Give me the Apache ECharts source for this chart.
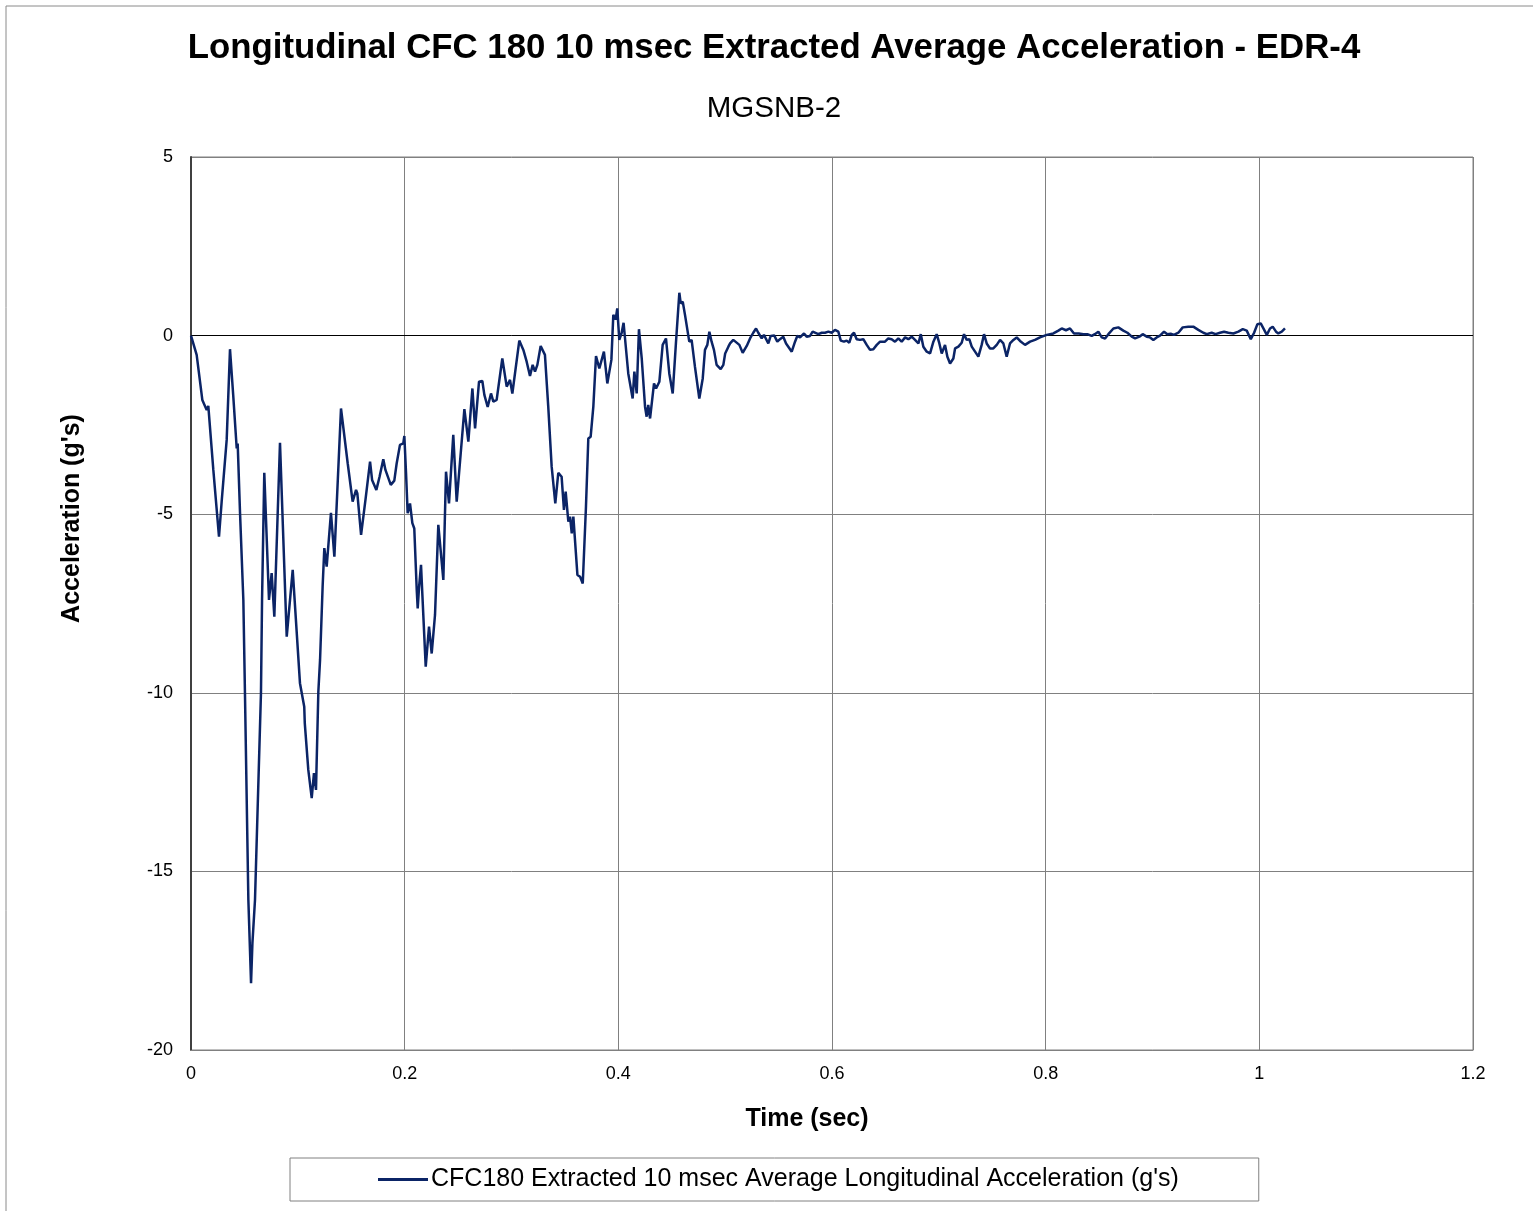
<!DOCTYPE html>
<html>
<head>
<meta charset="utf-8">
<script src="https://cdn.jsdelivr.net/npm/echarts@6/dist/echarts.min.js"></script>
<style>
html,body{margin:0;padding:0;background:#fff;}
#chart{width:1533px;height:1211px;}
</style>
</head>
<body>
<div id="chart"></div>
<script>
const titleText = "Longitudinal CFC 180 10 msec Extracted Average Acceleration - EDR-4";
const subtitleText = "MGSNB-2";
const seriesName = "CFC180 Extracted 10 msec Average Longitudinal Acceleration (g's)";
const xAxisName = "Time (sec)";
const yAxisName = "Acceleration (g's)";
const xTicks = [0, 0.2, 0.4, 0.6, 0.8, 1, 1.2];
const yTicks = [-20, -15, -10, -5, 0, 5];

const timeSec = [
0, 0.0053, 0.0106, 0.0147, 0.0162, 0.0209, 0.0262, 0.0287, 0.0334, 0.0365,
0.0396, 0.0428, 0.0437, 0.0459, 0.049, 0.0505, 0.0537, 0.0562, 0.0575, 0.0599,
0.0655, 0.0665, 0.0686, 0.073, 0.0755, 0.078, 0.0833, 0.0896, 0.0952, 0.102,
0.106, 0.1065, 0.1098, 0.113, 0.1151, 0.117, 0.1192, 0.1208, 0.1232, 0.1248,
0.127, 0.131, 0.1342, 0.1404, 0.1467, 0.1513, 0.1545, 0.1557, 0.1592, 0.1633,
0.1676, 0.1695, 0.1735, 0.1765, 0.18, 0.182, 0.1833, 0.187, 0.1903, 0.1925,
0.1956, 0.1987, 0.1997, 0.2013, 0.2028, 0.205, 0.2072, 0.209, 0.2113, 0.2122,
0.2134, 0.2153, 0.2165, 0.2197, 0.2228, 0.2253, 0.2284, 0.2315, 0.2362, 0.2387,
0.2415, 0.2455, 0.2487, 0.2509, 0.2559, 0.2596, 0.2634, 0.2659, 0.2696, 0.2727,
0.2746, 0.2777, 0.2808, 0.283, 0.2861, 0.2914, 0.2955, 0.2986, 0.3008, 0.3073,
0.3111, 0.3142, 0.3173, 0.3198, 0.322, 0.3242, 0.3273, 0.3313, 0.3344, 0.3376,
0.341, 0.3438, 0.3469, 0.3491, 0.3507, 0.3532, 0.3548, 0.3564, 0.3579, 0.3617,
0.3642, 0.3667, 0.3697, 0.3719, 0.3741, 0.3766, 0.3791, 0.3822, 0.3865, 0.3897,
0.3935, 0.3953, 0.3975, 0.399, 0.4009, 0.403, 0.4049, 0.4093, 0.4134, 0.415,
0.4172, 0.4193, 0.4219, 0.425, 0.4265, 0.428, 0.4297, 0.4334, 0.4353, 0.4384,
0.4415, 0.4446, 0.4477, 0.4509, 0.454, 0.4571, 0.4584, 0.4603, 0.4624, 0.4664,
0.4686, 0.4717, 0.4758, 0.479, 0.4811, 0.4833, 0.4852, 0.4873, 0.4895, 0.492,
0.4958, 0.4983, 0.5, 0.503, 0.5046, 0.5076, 0.5093, 0.5133, 0.5164, 0.5202,
0.5233, 0.5263, 0.5289, 0.531, 0.5342, 0.5363, 0.5404, 0.5426, 0.546, 0.5488,
0.5513, 0.5544, 0.557, 0.5591, 0.5623, 0.5654, 0.5675, 0.5701, 0.5738, 0.5763,
0.5794, 0.5819, 0.5872, 0.5904, 0.5935, 0.5966, 0.5997, 0.6028, 0.6059, 0.6082,
0.6112, 0.6137, 0.6162, 0.6185, 0.6206, 0.6231, 0.6262, 0.6293, 0.6325, 0.6356,
0.6387, 0.6419, 0.645, 0.6496, 0.6527, 0.6558, 0.659, 0.6621, 0.6652, 0.6684,
0.6715, 0.6746, 0.6777, 0.6809, 0.6831, 0.6855, 0.6887, 0.6918, 0.6949, 0.698,
0.7005, 0.7027, 0.7058, 0.708, 0.7105, 0.7136, 0.7152, 0.7183, 0.7214, 0.7236,
0.7261, 0.7285, 0.7308, 0.7339, 0.737, 0.7401, 0.7423, 0.7448, 0.7479, 0.751,
0.7542, 0.7573, 0.7604, 0.7635, 0.7666, 0.7698, 0.7729, 0.776, 0.7807, 0.7854,
0.79, 0.7947, 0.801, 0.8072, 0.8119, 0.815, 0.819, 0.8228, 0.8265, 0.831,
0.8353, 0.839, 0.8431, 0.846, 0.8493, 0.8525, 0.8556, 0.8587, 0.8634, 0.868,
0.8727, 0.8765, 0.8806, 0.8837, 0.8877, 0.8908, 0.8946, 0.8977, 0.9008, 0.9039,
0.907, 0.9108, 0.9139, 0.917, 0.9201, 0.9242, 0.9283, 0.9335, 0.9382, 0.9429,
0.9476, 0.9507, 0.9554, 0.959, 0.9632, 0.967, 0.971, 0.9757, 0.9804, 0.9845,
0.9882, 0.992, 0.9951, 0.9982, 1.0013, 1.0038, 1.007, 1.01, 1.0125, 1.0156,
1.0178, 1.021, 1.024
];

const accelG = [
0, -0.54, -1.8, -2.08, -1.97, -3.76, -5.63, -4.65, -2.92, -0.38,
-1.71, -3.16, -3.02, -4.97, -7.4, -10.0, -15.8, -18.13, -17.0, -15.8,
-10.0, -7.4, -3.84, -7.4, -6.65, -7.87, -3.0, -8.43, -6.56, -9.73,
-10.39, -10.85, -12.16, -12.95, -12.25, -12.72, -9.97, -9.08, -7.03, -5.95,
-6.47, -4.96, -6.19, -2.04, -3.58, -4.65, -4.32, -4.42, -5.58, -4.6,
-3.53, -4.04, -4.32, -3.95, -3.46, -3.76, -3.76, -4.18, -4.06, -3.58,
-3.06, -3.02, -2.81, -3.86, -4.97, -4.7, -5.25, -5.4, -7.12, -7.64,
-7.07, -6.42, -7.21, -9.27, -8.15, -8.9, -7.82, -5.3, -6.84, -3.81,
-4.7, -2.78, -4.65, -3.86, -2.06, -2.97, -1.48, -2.6, -1.29, -1.27,
-1.66, -2.0, -1.62, -1.85, -1.8, -0.64, -1.43, -1.24, -1.62, -0.14,
-0.4, -0.73, -1.13, -0.82, -1.01, -0.82, -0.29, -0.54, -1.99, -3.67,
-4.7, -3.84, -3.95, -4.88, -4.37, -5.21, -5.07, -5.54, -5.07, -6.7,
-6.75, -6.94, -4.79, -2.88, -2.83, -1.99, -0.57, -0.92, -0.45, -1.34,
-0.68, 0.58, 0.45, 0.76, -0.12, 0.06, 0.36, -1.06, -1.76, -1.01,
-1.62, 0.18, -0.64, -1.99, -2.27, -1.94, -2.32, -1.34, -1.48, -1.29,
-0.26, -0.08, -1.06, -1.62, -0.17, 1.2, 0.9, 0.95, 0.58, -0.17,
-0.12, -0.87, -1.76, -1.2, -0.4, -0.26, 0.11, -0.17, -0.4, -0.82,
-0.94, -0.82, -0.5, -0.31, -0.22, -0.12, -0.12, -0.26, -0.48, -0.29,
-0.08, 0.08, 0.2, 0.08, -0.08, 0.02, -0.22, -0.01, 0.0, -0.17,
-0.1, -0.03, -0.22, -0.31, -0.45, -0.17, -0.01, -0.05, 0.06, -0.03,
-0.01, 0.11, 0.04, 0.08, 0.08, 0.11, 0.08, 0.16, 0.11, -0.14,
-0.17, -0.14, -0.2, 0.02, 0.08, -0.1, -0.12, -0.1, -0.26, -0.4,
-0.38, -0.26, -0.17, -0.17, -0.08, -0.1, -0.17, -0.08, -0.17, -0.05,
-0.1, -0.03, -0.12, -0.22, 0.04, -0.31, -0.45, -0.5, -0.17, 0.04,
-0.22, -0.5, -0.26, -0.59, -0.78, -0.64, -0.36, -0.31, -0.2, 0.04,
-0.12, -0.1, -0.31, -0.45, -0.59, -0.26, 0.04, -0.22, -0.36, -0.36,
-0.26, -0.12, -0.22, -0.59, -0.22, -0.12, -0.05, -0.15, -0.26, -0.17,
-0.12, -0.05, 0.02, 0.06, 0.14, 0.2, 0.15, 0.2, 0.06, 0.06,
0.04, 0.04, -0.01, 0.04, 0.11, -0.05, -0.08, 0.04, 0.2, 0.23,
0.14, 0.08, -0.03, -0.08, -0.03, 0.04, -0.03, -0.05, -0.12, -0.05,
0.0, 0.11, 0.04, 0.05, 0.02, 0.08, 0.23, 0.25, 0.25, 0.16,
0.08, 0.04, 0.08, 0.04, 0.08, 0.11, 0.08, 0.06, 0.11, 0.18,
0.14, -0.1, 0.08, 0.32, 0.34, 0.2, 0.02, 0.2, 0.25, 0.11,
0.06, 0.11, 0.2
];

const seriesData = timeSec.map((t, i) => [t, accelG[i]]);
const FONT = "'Liberation Sans', Arial, sans-serif";

const chart = echarts.init(document.getElementById('chart'), null, {renderer: 'canvas'});
chart.setOption({
  backgroundColor: '#ffffff',
  animation: false,
  title: [
    {text: titleText, left: 774, top: 31, textAlign: 'center', padding: 0,
     textStyle: {fontFamily: FONT, fontSize: 34.8, fontWeight: 'bold', color: '#000'}},
    {text: subtitleText, left: 774, top: 94, textAlign: 'center', padding: 0,
     textStyle: {fontFamily: FONT, fontSize: 29.5, fontWeight: 'normal', color: '#000'}}
  ],
  graphic: [
    {type: 'rect', shape: {x: 6, y: 6, width: 1540, height: 1220}, silent: true,
     style: {fill: 'none', stroke: '#8a8a8a', lineWidth: 1}, z: -10}
  ],
  grid: {left: 191, right: 60, top: 157, bottom: 161, show: true,
         borderColor: '#808080', borderWidth: 1, backgroundColor: 'transparent'},
  legend: {
    left: 290, top: 1158,
    padding: [9, 80, 9, 88],
    borderColor: '#808080', borderWidth: 1, borderRadius: 0,
    itemWidth: 50, itemHeight: 3, itemGap: 4,
    icon: 'rect',
    textStyle: {fontFamily: FONT, fontSize: 25, color: '#000', padding: [0, 0, 0, -2]},
    data: [seriesName]
  },
  xAxis: {
    type: 'value', min: 0, max: 1.2, interval: 0.2,
    name: xAxisName, nameLocation: 'middle', nameGap: 57,
    nameTextStyle: {fontFamily: FONT, fontSize: 25, fontWeight: 'bold', color: '#000', padding: [0, 50, 0, 0]},
    axisLine: {show: true, onZero: false, lineStyle: {color: '#808080', width: 1}},
    axisTick: {show: false},
    axisLabel: {fontFamily: FONT, fontSize: 18, color: '#000', margin: 15,
      formatter: v => String(Math.round(v * 10) / 10)},
    splitLine: {show: true, lineStyle: {color: '#808080', width: 1}}
  },
  yAxis: {
    type: 'value', min: -20, max: 5, interval: 5,
    name: yAxisName, nameLocation: 'middle', nameGap: 106,
    nameTextStyle: {fontFamily: FONT, fontSize: 25, fontWeight: 'bold', color: '#000', padding: [0, 0, 0, 170]},
    axisLine: {show: true, lineStyle: {color: '#404040', width: 2}},
    axisTick: {show: false},
    axisLabel: {fontFamily: FONT, fontSize: 18, color: '#000', margin: 18},
    splitLine: {show: true, lineStyle: {color: '#808080', width: 1}}
  },
  series: [
    {
      name: seriesName, type: 'line', data: seriesData,
      symbol: 'none', showSymbol: false, smooth: false,
      lineStyle: {color: '#0b2466', width: 2.5},
      itemStyle: {color: '#0b2466'},
      markLine: {
        silent: true, symbol: 'none', label: {show: false},
        lineStyle: {color: '#000', width: 1, type: 'solid'},
        data: [{yAxis: 0}], z: 1
      },
      z: 3
    }
  ]
});
</script>
</body>
</html>
